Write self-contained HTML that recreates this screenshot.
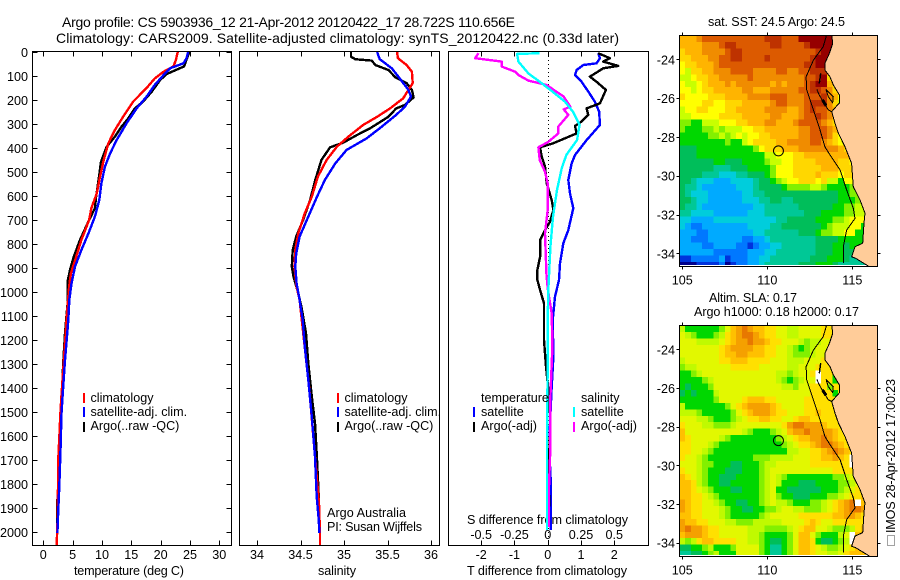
<!DOCTYPE html>
<html>
<head>
<meta charset="utf-8">
<title>Argo profile</title>
<style>
html,body{margin:0;padding:0;background:#fff;}
svg{display:block;font-family:"Liberation Sans",sans-serif;font-size:12.6px;fill:#000;}
text{stroke:none;}
</style>
</head>
<body>
<svg id="chart" xmlns="http://www.w3.org/2000/svg" width="900" height="580" viewBox="0 0 900 580">
<rect x="0" y="0" width="900" height="580" fill="#fff"/>
<text x="62" y="27" font-size="14" textLength="453">Argo profile: CS 5903936_12 21-Apr-2012 20120422_17 28.722S 110.656E</text>
<text x="56" y="43" font-size="14" textLength="563">Climatology: CARS2009. Satellite-adjusted climatology: synTS_20120422.nc (0.33d later)</text>
<text x="74" y="575" textLength="110">temperature (deg C)</text>
<text x="318" y="575" textLength="38">salinity</text>
<text x="467" y="575" textLength="160">T difference from climatology</text>
<text x="467" y="524" textLength="161">S difference from climatology</text>
<text x="327" y="517" textLength="79">Argo Australia</text>
<text x="327" y="531" textLength="95">PI: Susan Wijffels</text>
<text x="708" y="26" textLength="137">sat. SST: 24.5 Argo: 24.5</text>
<text x="709" y="302" textLength="88">Altim. SLA: 0.17</text>
<text x="694" y="316" textLength="165">Argo h1000: 0.18 h2000: 0.17</text>
<text transform="translate(895,533) rotate(-90)" x="0" y="0" textLength="154">IMOS 28-Apr-2012 17:00:23</text>
<rect x="887.5" y="535.5" width="7" height="10" fill="none" stroke="#444" stroke-width="1" stroke-dasharray="1 1"/>
<clipPath id="map-one-clip"><rect x="679.5" y="35.5" width="198" height="229.5"/></clipPath>
<clipPath id="map-two-clip"><rect x="679.5" y="325.5" width="198" height="229.5"/></clipPath>
</svg>
<script>
// ---- depth profile data (depth in metres) ----
const depthTickLabels = [0,100,200,300,400,500,600,700,800,900,1000,1100,1200,1300,1400,1500,1600,1700,1800,1900,2000];
const tempTickLabels = [0,5,10,15,20,25,30];
const salTickLabels = [34,34.5,35,35.5,36];
const tDiffTickLabels = [-2,-1,0,1,2];
const sDiffTickLabels = [-0.5,-0.25,0,0.25,0.5];

const tempClimDepth = [0,33,60,82,110,150,207,270,325,380,450,520,590,650,700,783,853,922,978,1100,1250,1428,1511,1608,1692,1811,1978,2055];
const tempClim = [22.9,22.6,22.2,20.5,19,17.6,15.3,13.6,12.2,11.1,10.3,9.66,9.1,8.2,7.8,6.5,5.6,4.7,4.4,4.0,3.6,3.1,2.9,2.73,2.56,2.5,2.4,2.27];
const tempSatDepth = [0,26,47,68,96,137,186,235,297,367,422,478,547,617,686,755,825,894,964,1033,1117,1200,1283,1394,1505,1644,1811,1936,2005];
const tempSat = [24.7,24.4,23.9,21.6,20.5,19,17.6,15.9,14.2,12.5,11.4,10.5,9.9,9.55,8.8,7.7,6.5,5.4,4.8,4.43,4.26,3.98,3.7,3.4,3.1,2.95,2.73,2.5,2.4];
const tempArgoDepth = [0,26,60,92,117,165,207,235,276,311,353,394,457,533,603,651,700,783,853,908,950,1033,1089,1172,1297,1408,1520,1644,1755,1866,1980];
const tempArgo = [24.9,24.5,24,21,19.9,18.5,17,15.6,14.5,13.35,12.2,10.8,9.83,9.43,9,8.8,7.8,6.25,5.2,4.55,4.2,4.2,3.98,3.7,3.4,3.2,3.07,2.73,2.67,2.4,2.4];

const salClimDepth = [0,26,54,82,130,158,193,235,270,304,353,394,450,519,603,672,755,825,894,978,1033,1400,1880,2005,2055];
const salClim = [35.61,35.62,35.72,35.78,35.79,35.74,35.68,35.53,35.38,35.22,35.05,34.92,34.8,34.7,34.63,34.55,34.475,34.44,34.43,34.455,34.49,34.6,34.713,34.724,34.724];
const salSatDepth = [0,30,68,110,158,186,228,262,318,360,408,464,533,603,686,769,839,894,964,1033,1117,1228,1367,1519,1686,1853,1950,2005];
const salSat = [35.38,35.41,35.55,35.64,35.74,35.77,35.7,35.6,35.41,35.26,35.03,34.9,34.78,34.69,34.59,34.49,34.45,34.44,34.455,34.49,34.525,34.55,34.59,34.63,34.667,34.686,34.71,34.716];
const salArgoDepth = [0,20,30,33,36,54,75,105,130,158,189,221,235,270,318,346,378,397,450,533,617,700,769,825,894,936,1006,1061,1172,1297,1436,1547,1672,1811,1880];
const salArgo = [35.08,35.08,35.13,35.22,35.32,35.36,35.51,35.59,35.72,35.78,35.8,35.7,35.6,35.51,35.3,35.15,34.99,34.84,34.74,34.67,34.61,34.53,34.45,34.41,34.4,34.42,34.475,34.51,34.563,34.59,34.63,34.667,34.686,34.705,34.713];

const tDiffSatDepth = [5,26,47,54,75,96,124,165,207,249,304,367,429,464,533,589,651,742,797,880,950,1019,1117,1269,1394,1547,1670,1783,1992];
const tDiffSat = [1.52,1.57,1.47,1.07,0.87,0.82,1.02,1.22,1.42,1.55,1.57,1.17,0.82,0.72,0.62,0.67,0.77,0.62,0.47,0.37,0.34,0.22,0.15,0.17,0.12,0.07,0.05,0.09,0.09];
const tDiffArgoDepth = [5,26,40,58,68,103,124,158,214,235,262,290,308,339,380,397,436,478,547,617,658,707,742,783,853,908,950,992,1047,1200,1311,1408,1505,1600,1755,1894];
const tDiffArgo = [1.52,1.87,1.67,2.12,1.67,1.27,1.47,1.75,1.57,1.17,1.22,1.02,0.82,0.87,0.17,-0.23,-0.18,-0.08,-0.03,0.12,0.17,0.07,-0.08,-0.23,-0.23,-0.31,-0.31,-0.23,-0.11,-0.11,-0.05,0.02,0.07,0.07,0.02,0.05];
const sDiffArgoDepth = [5,26,40,61,82,96,119,137,186,228,239,262,311,339,374,397,450,499,547,658,756,922,985,1089,1228,1436,1644,1811,1980];
const sDiffArgo = [-0.52,-0.545,-0.345,-0.345,-0.245,-0.22,-0.145,-0.01,0.12,0.17,0.12,0.155,0.08,0.08,0.005,-0.07,-0.06,-0.02,0,0,-0.02,-0.01,0,0.03,0.035,0.02,0.02,0.01,0.01];
const sDiffSatDepth = [5,8,40,89,124,158,207,249,304,367,429,485,575,686,811,985,1100,1300,1600,1900,1992];
const sDiffSat = [-0.06,-0.23,-0.22,-0.145,-0.06,0.02,0.13,0.19,0.24,0.22,0.14,0.105,0.07,0.04,0.02,0.005,0,0,-0.005,-0.005,-0.005];

// ---- map data: level index per 1/3 degree cell (north to south, west to east) ----
const lonTickLabels = [105,110,115];
const latTickLabels = [-24,-26,-28,-30,-32,-34];
const sstRows = [
"cccdeeeeeeeeeeefffeeeggggggggg",
"ccccdddeffeeeeeeffeeeefggggggg",
"bcccddddeffeeeeeeeeeeeeefggggg",
"bbcccddeeffeeeefeeeeeeefgggggg",
"abbcccdeeeeeeeeeeeeeeeffgggggg",
"a9bbccdddeeeeddddeeddeefffgccc",
"99abbccdddddedddddddddeefgbccc",
"a99abcccdcddddddcdcdddefggcba9",
"aa9abbcccccddcccdddddeeffedba9",
"baaaabbbccccddddeeedddeeefdca9",
"aaaabbaabbbcccccdeedddefffdb99a",
"9aabbaaabbcccccddddccdefeedcaaa",
"99aaaaabbbbcccccddcccdeefedcbaa",
"8877999aaabbcccddcccdeeeedcbaaa",
"87778898999aabbccccccddeeedcbaa",
"7777788989a9aabbcccccddeeedba99",
"777777778779abbbbccddddeedcba99",
"66677777777778abbbcccdddddddcba99",
"66677777777777799aaabbccccccccba9",
"666666776667777899aabbbbccccbbaa9",
"66666655566677778aaabbbbbcccbbbaa9",
"66665554445566678aaabbbbcbbbabbaa9",
"6654443334444566789aabbbab997aaaa8",
"655433333344456666788889987777899a78",
"654443333334455666666666666677889a77",
"665443333334445566556666666677789a77",
"655433333333344555555666666778899a77",
"554444333333444555555566677778899a77",
"443333444444444445566666777889aaa777",
"432233333333444455666666678999aa777",
"33322333333334455555566678899aa7775",
"3322233333322334555555556666777774",
"33332233332212334455555566677677",
"33333322222233344555555566677665",
"11222223122233445555555666777655",
"00011112012233455555566677765555"
];
const slaRows = [
"97777778acdedccbbaa99aaaabbb7",
"a9877789bcdeedcbbaa99aaaabbb7",
"aaa9999abcddeddcbbaaa9899aabbb7",
"aaaaaaabcddddccbbaa98789aabbb87",
"aaaaaaabccddcccbbaa98889aabbb87",
"9aaaaaabbcccbbbbaaa999aaabbbb87",
"899aaaaaabbbbbaaaaa99aaabbbb887",
"7789aaaaaaaaaaaaa9989aabbbb778",
"777789aaaaaaaaaaa98789aabbb7799",
"767778aaaaaaaaaaaa998aabbb8bbb9",
"6767779aaaaaaaaaaaaaaaabbbb7b9",
"7777778aaaabcccbbaaaaabbbbbb7",
"977777778abcddddcbaaaabbbbbbbb",
"9998777778abcdddcbbaaabbcbbbbb",
"aaa99877789abbccbbaabccbbbbbb",
"baaa998889aaaaaaaabdeedddcbbbb",
"caaaaaaaaaa9877789acddeddddcbbb",
"cbaaaaa987777777789abccddedcbbb",
"bbaaa987777777777789abbcdeedcbb",
"bbaa98777777777777799aabbcdedcbbb",
"baa98777777778889 99aaabbccdcbb".replace(" ","9"),
"aaa98877766777899aaaaaabbbbbbbbb",
"baa9877766677789aaaaaaaaaaabbbb",
"cba9877666777789a9877777777889abb",
"ccb9877667777789a97776667777889ab",
"ccba987776677789a7766666677789abb",
"ccbba98777777789a877666777889abbc",
"dcbbaa9877667789a998777889abcdeec",
"dcbbaaa98776677 89aa998889abcdeedbb".replace(" ","8"),
"ccbbaaa987777789aaaaabbbbbbccddcbb",
"dccbbaaa9988899999aaaabcbaabbbbbbb",
"deddcbbaaaaa99988889abccaa98889bcc",
"cdddcbbaaaaa99877778acca87779abcc",
"989bccbbbbaa9987667 8accb76678 9bcc".replace(/ /g,""),
"6677897778aaaa875578accba9889abcc",
"5566789777aaaa875578accbaa99abcc"
];
const slaNoDataCols = [24,24,31,30,30,30,30];
const slaNoDataRows = [7,8,27,20,21,32,33];
const levelColors = {"0":"#00008c","1":"#0032dc","2":"#0078ff","3":"#00aaff","4":"#00cddc","5":"#00c896","6":"#00be5a","7":"#00d700","8":"#82f000","9":"#c8ff00","a":"#ffff00","b":"#ffd700","c":"#ffb400","d":"#f08c00","e":"#dc5a00","f":"#be3200","g":"#960000"};
const slaColors = {"0":"#00008c","1":"#0032dc","2":"#0078ff","3":"#00aaff","4":"#00cddc","5":"#00c896","6":"#00be5a","7":"#00d700","8":"#82f000","9":"#c0fa00","a":"#e2f800","b":"#ffe000","c":"#ffc000","d":"#f5a000","e":"#e87800","f":"#be3200","g":"#960000"};
const coastLon = [113.79,113.85,113.65,113.39,113.39,113.69,113.88,114.24,114.24,113.79,113.98,114.18,114.57,114.76,114.96,115.06,115.45,115.75,115.69,115.61,115.16,114.96,115.2,116.0];
const coastLat = [-22.75,-23.18,-23.69,-24.21,-24.55,-24.9,-25.32,-25.84,-26.25,-26.7,-27.3,-27.81,-28.51,-28.93,-29.36,-30.57,-31.25,-31.94,-32.44,-33.48,-33.66,-34.18,-34.26,-34.69];
const contourLon = [113.49,113.29,112.71,112.28,112.32,112.71,113.1,113.39,113.69,114.28,114.67,115.06,115.16,114.67,114.47,114.47];
const contourLat = [-22.75,-23.35,-24.04,-24.9,-25.58,-26.61,-27.64,-28.51,-28.93,-29.71,-30.74,-31.68,-32.2,-32.8,-33.66,-34.5];
const islandALon = [113.14,113.06];
const islandALat = [-24.72,-25.24];
const islandBLon = [112.91,113.06,113.29,113.59,113.79];
const islandBLat = [-25.55,-25.84,-26.19,-26.61,-26.7];
const islandCLon = [113.45,113.88,113.85,113.59,113.45];
const islandCLat = [-25.55,-25.93,-26.24,-25.93,-25.55];
const islandDLon = [113.25,113.45];
const islandDLat = [-26.1,-26.38];
const profileLon = 110.656;
const profileLat = -28.722;

// ---- helpers ----
const svg = document.getElementById('chart');
const NS = 'http://www.w3.org/2000/svg';
function make(tag, attrs, parent){
  const el = document.createElementNS(NS, tag);
  for (const k in attrs) el.setAttribute(k, attrs[k]);
  (parent || svg).appendChild(el);
  return el;
}
const depthY = d => 52 + d * 0.24;
const tempX = v => 43.3 + v * 5.867;
const salX = v => 257 + (v - 34) * 87;
const tDiffX = v => 547.7 + v * 33.25;
const sDiffX = v => 547.7 + v * 133;
const lonX = v => 682.3 + (v - 105) * 17;
const mapOneY = v => 59.3 + (-24 - v) * 19.4;
const mapTwoY = v => 349.3 + (-24 - v) * 19.34;
const landColor = '#ffcc99';
const lineWidth = 2.4;

function drawLine(xs, ys, fx, fy, color, width, name, parent){
  const pts = xs.map((v, i) => fx(v).toFixed(1) + ',' + fy(ys[i]).toFixed(1)).join(' ');
  const el = make('polyline', {points: pts, fill: 'none', stroke: color, 'stroke-width': width, 'stroke-linejoin': 'round', 'shape-rendering': 'crispEdges'}, parent);
  
  
  return el;
}
function drawText(str, x, y, anchor, name){
  const el = make('text', {x: x, y: y, 'text-anchor': anchor});
  el.textContent = str;
  
  
  return el;
}
function drawTick(x1, y1, x2, y2, name){
  const el = make('line', {x1: x1, y1: y1, x2: x2, y2: y2, stroke: '#000', 'stroke-width': 1, 'shape-rendering': 'crispEdges'});
  
  
}
function drawFrame(x, y, w, h, name){
  const el = make('rect', {x: x, y: y, width: w, height: h, fill: 'none', stroke: '#000', 'stroke-width': 1, 'shape-rendering': 'crispEdges'});
  
  
}
function drawLegendBar(x, y, color, name){
  const el = make('rect', {x: x, y: y, width: 2, height: 10, fill: color});
  
  
}

const plotTop = 51.5, plotBottom = 545.5;

// ---- temperature panel ----
drawLine(tempArgo, tempArgoDepth, tempX, depthY, '#000', lineWidth, 'temperature-argo-line');
drawLine(tempClim, tempClimDepth, tempX, depthY, '#f00', lineWidth, 'temperature-climatology-line');
drawLine(tempSat, tempSatDepth, tempX, depthY, '#00f', lineWidth, 'temperature-satellite-line');
drawFrame(32.5, plotTop, 199, plotBottom - plotTop, 'temperature-panel-frame');
depthTickLabels.forEach(d => {
  drawTick(32.5, Math.round(depthY(d)) + .5, 37.5, Math.round(depthY(d)) + .5, 'depth-tick-left');
  drawTick(226.5, Math.round(depthY(d)) + .5, 231.5, Math.round(depthY(d)) + .5, 'depth-tick-right');
  drawText(String(d), 28, depthY(d) + 5, 'end', 'depth-tick-label');
});
tempTickLabels.forEach(v => {
  const x = Math.round(tempX(v)) + .5;
  drawTick(x, plotTop, x, plotTop + 5, 'temperature-tick-top');
  drawTick(x, plotBottom - 5, x, plotBottom, 'temperature-tick-bottom');
  drawText(String(v), tempX(v), 559, 'middle', 'temperature-tick-label');
});
drawLegendBar(83, 393, '#f00', 'temperature-legend-climatology-swatch');
drawLegendBar(83, 407, '#00f', 'temperature-legend-satellite-swatch');
drawLegendBar(83, 422, '#000', 'temperature-legend-argo-swatch');
drawText('climatology', 90.5, 402, 'start', 'temperature-legend-climatology');
drawText('satellite-adj. clim.', 90.5, 416, 'start', 'temperature-legend-satellite');
drawText('Argo(..raw -QC)', 90.5, 430, 'start', 'temperature-legend-argo');

// ---- salinity panel ----
drawLine(salArgo, salArgoDepth, salX, depthY, '#000', lineWidth, 'salinity-argo-line');
drawLine(salClim, salClimDepth, salX, depthY, '#f00', lineWidth, 'salinity-climatology-line');
drawLine(salSat, salSatDepth, salX, depthY, '#00f', lineWidth, 'salinity-satellite-line');
drawFrame(239.5, plotTop, 200, plotBottom - plotTop, 'salinity-panel-frame');
salTickLabels.forEach(v => {
  const x = Math.round(salX(v)) + .5;
  drawTick(x, plotTop, x, plotTop + 5, 'salinity-tick-top');
  drawTick(x, plotBottom - 5, x, plotBottom, 'salinity-tick-bottom');
  drawText(String(v), salX(v), 559, 'middle', 'salinity-tick-label');
});
drawLegendBar(337, 393, '#f00', 'salinity-legend-climatology-swatch');
drawLegendBar(337, 407, '#00f', 'salinity-legend-satellite-swatch');
drawLegendBar(337, 422, '#000', 'salinity-legend-argo-swatch');
drawText('climatology', 344.5, 402, 'start', 'salinity-legend-climatology');
drawText('satellite-adj. clim.', 344.5, 416, 'start', 'salinity-legend-satellite');
drawText('Argo(..raw -QC)', 344.5, 430, 'start', 'salinity-legend-argo');

// ---- difference panel ----
const zeroLine = make('line', {x1: 548.5, y1: 52, x2: 548.5, y2: 545, stroke: '#000', 'stroke-width': 1, 'stroke-dasharray': '1 3', 'shape-rendering': 'crispEdges'});


drawLine(tDiffSat, tDiffSatDepth, tDiffX, depthY, '#00f', lineWidth, 't-difference-satellite-line');
drawLine(tDiffArgo, tDiffArgoDepth, tDiffX, depthY, '#000', lineWidth, 't-difference-argo-line');
drawLine(sDiffArgo, sDiffArgoDepth, sDiffX, depthY, '#f0f', lineWidth, 's-difference-argo-line');
drawLine(sDiffSat, sDiffSatDepth, sDiffX, depthY, '#0ff', lineWidth, 's-difference-satellite-line');
drawFrame(448.5, plotTop, 200, plotBottom - plotTop, 'difference-panel-frame');
tDiffTickLabels.forEach(v => {
  const x = Math.round(tDiffX(v)) + .5;
  drawTick(x, plotTop, x, plotTop + 5, 't-difference-tick-top');
  drawTick(x, plotBottom - 5, x, plotBottom, 't-difference-tick-bottom');
  drawText(String(v), tDiffX(v), 559, 'middle', 't-difference-tick-label');
});
sDiffTickLabels.forEach(v => {
  drawText(String(v), sDiffX(v), 539, 'middle', 's-difference-tick-label');
});
drawText('temperature', 481, 402, 'start', 'difference-legend-temperature-header');
drawText('salinity', 581, 402, 'start', 'difference-legend-salinity-header');
drawLegendBar(473, 407, '#00f', 'difference-legend-t-satellite-swatch');
drawLegendBar(473, 422, '#000', 'difference-legend-t-argo-swatch');
drawLegendBar(573, 407, '#0ff', 'difference-legend-s-satellite-swatch');
drawLegendBar(573, 422, '#f0f', 'difference-legend-s-argo-swatch');
drawText('satellite', 481, 416, 'start', 'difference-legend-t-satellite');
drawText('Argo(-adj)', 481, 430, 'start', 'difference-legend-t-argo');
drawText('satellite', 581, 416, 'start', 'difference-legend-s-satellite');
drawText('Argo(-adj)', 581, 430, 'start', 'difference-legend-s-argo');

// ---- maps ----
function drawMap(rows, colors, noDataCols, noDataRows, top, bottom, fy, clipId, prefix){
  const left = 679.5, right = 877.5;
  const cellW = 17 / 3, cellH = (fy(-25) - fy(-24)) / 3;
  const group = make('g', {'shape-rendering': 'crispEdges', 'clip-path': 'url(#' + clipId + ')'});
  
  
  rows.forEach((row, j) => {
    row.padEnd(35, row[row.length - 1]).split('').forEach((ch, i) => {
      const cell = make('rect', {x: (left + i * cellW).toFixed(2), y: (top + j * cellH).toFixed(2), width: (cellW + .5).toFixed(2), height: (cellH + .5).toFixed(2), fill: colors[ch]}, group);
      
      
    });
  });
  noDataCols.forEach((c, n) => {
    const hole = make('rect', {x: (left + c * cellW).toFixed(2), y: (top + noDataRows[n] * cellH).toFixed(2), width: cellW.toFixed(2), height: cellH.toFixed(2), fill: '#fff'}, group);
    
    
  });
  const landPts = coastLon.map((v, i) => lonX(v).toFixed(1) + ',' + fy(coastLat[i]).toFixed(1));
  landPts.push(right + ',' + bottom);
  landPts.push(right + ',' + top);
  const land = make('polygon', {points: landPts.join(' '), fill: landColor, 'shape-rendering': 'crispEdges'});
  
  
  drawLine(coastLon, coastLat, lonX, fy, '#000', 1, prefix + '-coastline');
  drawLine(contourLon, contourLat, lonX, fy, '#000', 1, prefix + '-depth-contour');
  drawLine(islandALon, islandALat, lonX, fy, '#000', 1.5, prefix + '-island-a');
  drawLine(islandBLon, islandBLat, lonX, fy, '#000', 1, prefix + '-island-b');
  drawLine(islandCLon, islandCLat, lonX, fy, '#000', 1, prefix + '-island-c');
  drawLine(islandDLon, islandDLat, lonX, fy, '#000', 3, prefix + '-island-d');
  const spot = make('circle', {cx: lonX(profileLon), cy: fy(profileLat), r: 5, fill: 'none', stroke: '#000', 'stroke-width': 1});
  
  
  drawFrame(left, top, right - left, bottom - top, prefix + '-frame');
  lonTickLabels.forEach(v => {
    const x = Math.round(lonX(v)) + .5;
    drawTick(x, top - 3, x, top, prefix + '-lon-tick-top');
    drawTick(x, bottom, x, bottom + 3, prefix + '-lon-tick-bottom');
    drawText(String(v), lonX(v), bottom + 18, 'middle', prefix + '-lon-tick-label');
  });
  latTickLabels.forEach(v => {
    const y = Math.round(fy(v)) + .5;
    drawTick(left - 3, y, left, y, prefix + '-lat-tick-left');
    drawTick(right, y, right + 3, y, prefix + '-lat-tick-right');
    drawText(String(v), 675, fy(v) + 5, 'end', prefix + '-lat-tick-label');
  });
}
drawMap(sstRows, levelColors, [], [], 35.5, 266.5, mapOneY, 'map-one-clip', 'sst-map');
drawMap(slaRows, slaColors, slaNoDataCols, slaNoDataRows, 325.5, 556.5, mapTwoY, 'map-two-clip', 'sla-map');
</script>
</body>
</html>
